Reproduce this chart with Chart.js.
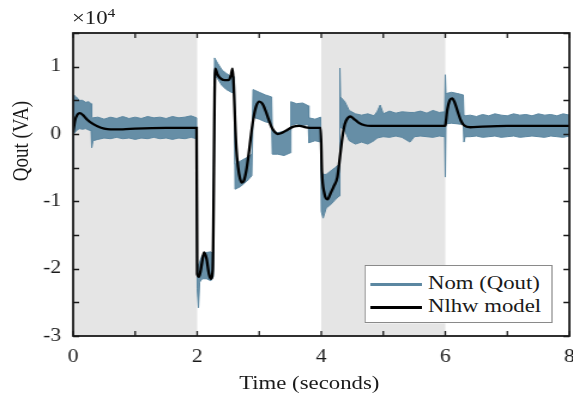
<!DOCTYPE html>
<html lang="en">
<head>
<meta charset="UTF-8">
<title>Qout vs Nlhw model</title>
<script src="https://cdn.jsdelivr.net/npm/chart.js@4.4.0/dist/chart.umd.min.js"></script>
<style>
    body {
        margin: 0;
        background: #fff;
        font-family: "Liberation Serif", "Times New Roman", serif;
        color: #1a1a1a;
        overflow: hidden;
    }
    /* the reference figure is stretched ~1.2x horizontally, so draw at 478px and widen */
    #wrap {
        position: relative;
        width: 478px;
        height: 400px;
        transform: scaleX(1.1987);
        transform-origin: 0 0;
    }
    #exp {
        position: absolute;
        left: 60px;
        top: 5px;
        font-size: 19px;
    }
    #exp sup {
        font-size: 13px;
    }
    .axis-title {
        position: absolute;
        width: 200px;
        height: 24px;
        line-height: 24px;
        text-align: center;
        font-size: 19px;
        white-space: nowrap;
    }
    #xTitle {
        left: 158px;
        top: 371px;
    }
    #yTitle {
        left: -83px;
        top: 129px;
        transform: rotate(-90deg);
    }
    .legend {
        position: absolute;
        left: 304px;
        top: 265px;
        width: 157px;
        height: 58px;
        background: #fff;
        border: 1px solid #8a8a8a;
        box-sizing: border-box;
        font-size: 19px;
    }
    .row {
        position: absolute;
        left: 4px;
        height: 22px;
        line-height: 22px;
        white-space: nowrap;
    }
    .swatch {
        display: inline-block;
        width: 43px;
        height: 3px;
        vertical-align: middle;
        margin-right: 5px;
    }
</style>
</head>
<body>
<div id="wrap">
    <canvas id="qoutChart"></canvas>
    <div id="exp">&times;10<sup>4</sup></div>
    <div class="axis-title" id="xTitle">Time (seconds)</div>
    <div class="axis-title" id="yTitle">Qout (VA)</div>
    <div class="legend">
        <div class="row" style="top:6px"><span class="swatch" style="background:#5b87a1"></span>Nom (Qout)</div>
        <div class="row" style="top:29px"><span class="swatch" style="background:#000"></span>Nlhw model</div>
    </div>
</div>
<script>
// values in units of 10^4 VA, time in seconds
var shadeStart = [0, 4];
var shadeEnd = [2, 6];

// measured Qout: upper and lower edge of the noise band
var bandTime = [0.00,0.01,0.05,0.10,0.15,0.20,0.25,0.29,0.30,0.32,0.40, 0.50,0.60,0.70,0.80,0.90,1.00,1.10,1.20,1.30,1.40,1.50,1.60,1.70,1.80,1.90,1.99,
    2.00,2.02,2.04,2.08,2.15,2.22,2.26, 2.28,2.33,2.40,2.47,2.55,2.60, 2.61,2.70,2.80,2.88, 2.90,3.00,3.10,3.20, 3.21,3.30,3.40,3.50, 3.51,3.60,3.70,3.79, 3.80,3.90,3.99,
    4.00,4.03,4.08,4.15,4.22,4.29, 4.30, 4.31,4.38,4.45,4.55,4.65,4.75,4.85, 4.90,4.95,5.00,5.10,5.20,5.30,5.43,5.50,5.60,5.70,5.80,5.90,5.99,
    6.00,6.01,6.10,6.20,6.29,6.30,6.32, 6.40,6.50,6.60,6.70,6.80,6.90,7.00,7.10,7.20,7.30,7.40,7.50,7.60,7.70,7.80,7.90,8.00];
var bandUpper = [0.30,0.58,0.55,0.50,0.50,0.47,0.48,0.45,0.25,0.24,0.25, 0.22,0.25,0.23,0.26,0.23,0.25,0.23,0.26,0.24,0.25,0.23,0.26,0.24,0.25,0.27,0.24,
    -1.95,-1.95,-1.90,-1.80,-1.76,-1.75,-1.78, 1.13,1.05,0.95,0.90,0.85,0.85, -0.45,-0.40,-0.35,-0.30, 0.66,0.62,0.58,0.55, 0.05,0.02,0.04,0.05, 0.48,0.45,0.46,0.42, 0.24,0.22,0.25,
    -0.55,-0.60,-0.60,-0.55,-0.50,-0.45, 0.98, 0.55,0.48,0.35,0.30,0.28,0.30,0.27, 0.33,0.43,0.30,0.34,0.31,0.33,0.32,0.32,0.34,0.31,0.35,0.32,0.33,
    0.88,0.60,0.62,0.60,0.58,0.28,0.27, 0.28,0.26,0.29,0.27,0.30,0.28,0.27,0.30,0.28,0.29,0.27,0.30,0.28,0.29,0.27,0.30,0.28];
var bandLower = [-0.50,0.00,0.05,0.08,0.07,0.08,0.06,0.05,-0.20,-0.10,-0.08, -0.06,-0.07,-0.05,-0.07,-0.06,-0.08,-0.06,-0.07,-0.05,-0.07,-0.06,-0.08,-0.06,-0.07,-0.05,-0.07,
    -2.30,-2.58,-2.20,-2.15,-2.15,-2.18,-2.12, 0.88,0.82,0.72,0.66,0.62,0.60, -0.82,-0.78,-0.70,-0.62, 0.25,0.22,0.18,0.16, -0.30,-0.30,-0.32,-0.28, 0.13,0.15,0.13,0.14, -0.13,-0.10,-0.12,
    -1.15,-1.25,-1.10,-1.05,-0.98,-0.92, 0.10, 0.10,0.05,-0.10,-0.15,-0.12,-0.15,-0.10, -0.06,-0.05,-0.04,-0.05,-0.03,-0.05,-0.12,-0.04,-0.03,-0.04,-0.05,-0.03,-0.04,
    -0.64,0.15,0.16,0.15,0.14,-0.12,-0.04, -0.04,-0.03,-0.05,-0.04,-0.03,-0.05,-0.04,-0.03,-0.05,-0.04,-0.03,-0.04,-0.05,-0.03,-0.04,-0.05,-0.03];

// Nlhw model output
var modelTime = [0.00,0.03,0.07,0.11,0.16,0.22,0.30,0.40,0.50,0.60,0.80,1.00,1.50,1.99,
    2.00,2.03,2.07,2.11,2.15,2.19,2.22,2.25,2.29,2.33,2.37,2.44,2.50,2.54,2.57,
    2.59,2.61,2.63,2.66,2.69,2.72,2.75,2.79,2.83,2.87,2.91,2.95,3.00,3.05,3.10,3.15,3.20,3.25,3.30,3.35,3.45,3.55,3.65,3.75,3.85,3.99,
    4.01,4.05,4.10,4.15,4.20,4.26,4.30,4.34,4.38,4.43,4.47,4.52,4.60,4.70,4.80,5.00,5.99,
    6.00,6.03,6.07,6.11,6.15,6.20,6.25,6.30,6.40,6.60,7.00,8.00];
var modelQout = [0.03,0.20,0.29,0.31,0.28,0.22,0.16,0.11,0.08,0.07,0.07,0.08,0.09,0.09,
    -2.08,-2.12,-1.95,-1.76,-1.85,-2.08,-2.15,-2.02,0.97,0.88,0.83,0.80,0.80,0.86,0.97,
    0.70,0.20,-0.20,-0.50,-0.66,-0.72,-0.70,-0.55,-0.30,0.00,0.25,0.41,0.48,0.45,0.35,0.22,0.10,0.03,0.00,0.01,0.06,0.11,0.12,0.10,0.09,0.09,
    -0.55,-0.88,-0.97,-0.88,-0.78,-0.64,-0.35,-0.05,0.15,0.24,0.26,0.23,0.17,0.13,0.12,0.12,0.12,
    0.13,0.35,0.50,0.53,0.47,0.33,0.20,0.13,0.10,0.11,0.12,0.12];

var axisColor = '#1a1a1a';
var blue = '#5b87a1';
var serif = '"Liberation Serif", "Times New Roman", serif';

function pts(xs, ys) {
    var out = [];
    for (var i = 0; i < xs.length; i++) out.push({x: xs[i], y: ys[i]});
    return out;
}

var shadePlugin = {
    id: 'shade',
    beforeDatasetsDraw: function(chart) {
        var ctx = chart.ctx, a = chart.chartArea, xs = chart.scales.x;
        ctx.save();
        ctx.fillStyle = '#e5e5e5';
        for (var i = 0; i < shadeStart.length; i++) {
            var x0 = xs.getPixelForValue(shadeStart[i]);
            var x1 = xs.getPixelForValue(shadeEnd[i]);
            ctx.fillRect(x0, a.top, x1 - x0, a.bottom - a.top);
        }
        ctx.restore();
    }
};

var framePlugin = {
    id: 'frame',
    afterDraw: function(chart) {
        var ctx = chart.ctx, a = chart.chartArea;
        var xs = chart.scales.x, ys = chart.scales.y;
        ctx.save();
        ctx.strokeStyle = axisColor;
        ctx.lineWidth = 1.3;
        ctx.beginPath();
        xs.ticks.forEach(function(t) {
            var px = xs.getPixelForValue(t.value);
            ctx.moveTo(px, a.bottom); ctx.lineTo(px, a.bottom - 5);
            ctx.moveTo(px, a.top); ctx.lineTo(px, a.top + 5);
        });
        ys.ticks.forEach(function(t) {
            var py = Math.round(ys.getPixelForValue(t.value)) + 0.5;
            ctx.moveTo(a.left, py); ctx.lineTo(a.left + 5, py);
            ctx.moveTo(a.right, py); ctx.lineTo(a.right - 5, py);
        });
        ctx.stroke();
        ctx.lineWidth = 1.8;
        ctx.strokeRect(a.left, a.top, a.right - a.left, a.bottom - a.top);
        ctx.restore();
    }
};

var tickFont = {family: serif, size: 18};

new Chart(document.getElementById('qoutChart'), {
    type: 'line',
    data: {
        datasets: [{
            label: 'Nlhw model',
            data: pts(modelTime, modelQout),
            borderColor: '#000',
            borderWidth: 2.3,
            pointRadius: 0,
            cubicInterpolationMode: 'monotone',
            fill: false,
            order: 0
        }, {
            label: 'Nom (Qout)',
            data: pts(bandTime, bandUpper),
            borderColor: blue,
            backgroundColor: 'rgba(91, 135, 161, 0.92)',
            borderWidth: 1,
            pointRadius: 0,
            fill: '+1',
            order: 1
        }, {
            label: 'Nom (Qout) low',
            data: pts(bandTime, bandLower),
            borderColor: blue,
            borderWidth: 1,
            pointRadius: 0,
            fill: false,
            order: 2
        }]
    },
    options: {
        responsive: true,
        maintainAspectRatio: false,
        animation: false,
        devicePixelRatio: 1,
        layout: {padding: {top: 33, right: 3, left: 0, bottom: 0}},
        plugins: {
            legend: {display: false},
            tooltip: {enabled: false}
        },
        scales: {
            x: {
                type: 'linear',
                min: 0,
                max: 8,
                afterFit: function(s) { s.height = 64; s.paddingLeft = 0; s.paddingRight = 0; },
                grid: {display: false, drawTicks: false},
                border: {display: false},
                ticks: {
                    stepSize: 1,
                    padding: 10,
                    color: axisColor,
                    font: tickFont,
                    maxRotation: 0,
                    autoSkip: false,
                    callback: function(v) { return v % 2 === 0 ? String(v) : ''; }
                }
            },
            y: {
                min: -3,
                max: 1.5,
                afterFit: function(s) { s.width = 61; s.paddingTop = 0; s.paddingBottom = 0; },
                grid: {display: false, drawTicks: false},
                border: {display: false},
                ticks: {
                    stepSize: 0.5,
                    padding: 10,
                    color: axisColor,
                    font: tickFont,
                    autoSkip: false,
                    callback: function(v) { return Number.isInteger(v) && v <= 1 ? String(v) : ''; }
                }
            }
        }
    },
    plugins: [shadePlugin, framePlugin]
});
</script>
</body>
</html>
